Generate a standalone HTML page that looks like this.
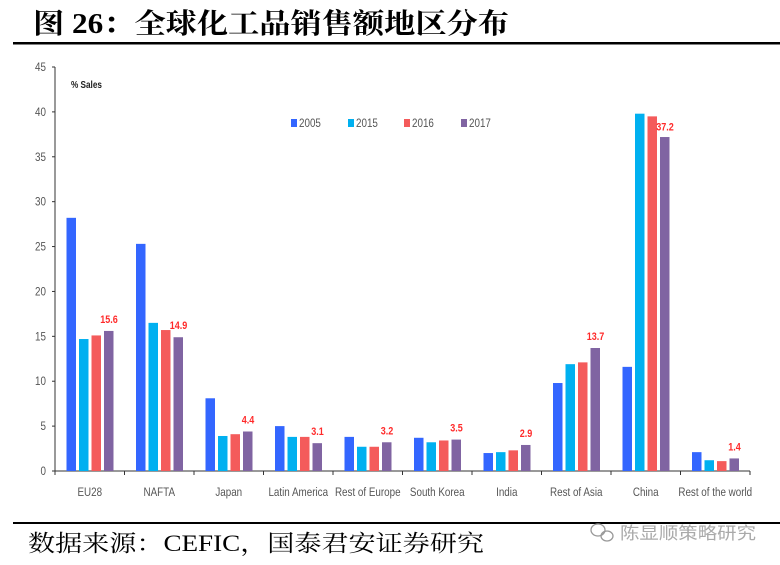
<!DOCTYPE html>
<html><head><meta charset="utf-8"><style>
body{margin:0;background:#fff;}
</style></head><body>
<svg width="780" height="560" xmlns="http://www.w3.org/2000/svg" font-family="'Liberation Sans',sans-serif">
<rect width="780" height="560" fill="#fff"/>
<text x="33" y="33" font-family="'Liberation Serif','Noto Serif CJK SC',serif" font-weight="bold" font-size="28" fill="#000" textLength="476" lengthAdjust="spacingAndGlyphs">图 26：全球化工品销售额地区分布</text>
<rect x="13" y="42" width="767" height="2.5" fill="#000"/>
<rect x="13" y="522" width="767" height="2" fill="#000"/>
<text x="28" y="551" font-family="'Liberation Serif','Noto Serif CJK SC',serif" font-size="23" fill="#000" textLength="456" lengthAdjust="spacingAndGlyphs">数据来源：CEFIC，国泰君安证券研究</text>
<g fill="none" stroke="#999" stroke-width="1.3"><ellipse cx="598" cy="530" rx="7" ry="6"/><ellipse cx="607" cy="536" rx="6" ry="5"/></g>
<text x="620" y="539" font-family="'Noto Sans CJK SC',sans-serif" font-size="17" fill="#aaa" textLength="136" lengthAdjust="spacingAndGlyphs">陈显顺策略研究</text>
<g id="chart"></g>
</svg>
<script>
const ns="http://www.w3.org/2000/svg",g=document.getElementById('chart');
function el(t,a,txt){const e=document.createElementNS(ns,t);for(const k in a)e.setAttribute(k,a[k]);if(txt!==undefined)e.textContent=txt;g.appendChild(e);return e;}
function ct(x,y,s,txt,extra){const e=el('text',Object.assign({x:0,y:0,'font-size':s,transform:`translate(${x},${y}) scale(0.82,1)`},extra||{}),txt);return e;}
const x0=55,y0=471,k=404/45,gw=69.5;
el('line',{x1:x0,y1:67,x2:x0,y2:y0,stroke:'#333','stroke-width':1});
el('line',{x1:x0,y1:y0,x2:750,y2:y0,stroke:'#333','stroke-width':1});
for(let v=0;v<=45;v+=5){const y=y0-v*k;el('line',{x1:x0-3,y1:y,x2:x0,y2:y,stroke:'#333'});ct(x0-9,y+4,12,v,{'text-anchor':'end',fill:'#555'});}
for(let i=0;i<=10;i++){const x=x0+i*gw;el('line',{x1:x,y1:y0,x2:x,y2:y0+4,stroke:'#333'});}
ct(71,88,10,'% Sales',{'font-weight':'bold',fill:'#222'});
const cols=['#3366ff','#00b0f0','#f45b5b','#8064a2'];
const names=['EU28','NAFTA','Japan','Latin America','Rest of Europe','South Korea','India','Rest of Asia','China','Rest of the world'];
const d=[[28.2,14.7,15.1,15.6],[25.3,16.5,15.7,14.9],[8.1,3.9,4.1,4.4],[5.0,3.8,3.8,3.1],[3.8,2.7,2.7,3.2],[3.7,3.2,3.4,3.5],[2.0,2.1,2.3,2.9],[9.8,11.9,12.1,13.7],[11.6,39.8,39.5,37.2],[2.1,1.2,1.1,1.4]];
d.forEach((r,i)=>{const gx=x0+i*gw;r.forEach((v,j)=>{const x=gx+11.5+j*12.5,h=v*k;el('rect',{x:x,y:y0-h,width:9.5,height:h,fill:cols[j]});});
 const lx=gx+11.5+3*12.5+5, ly=y0-r[3]*k-8; const isC=i==8;
 ct(lx,isC?y0-39.5*k+14:ly,11,r[3].toFixed(1),{'text-anchor':'middle','font-weight':'bold',fill:'#ff2a2a'});
 ct(gx+gw/2,y0+25,12,names[i],{'text-anchor':'middle',fill:'#555'});});
['2005','2015','2016','2017'].forEach((t,j)=>{const x=[291,348,404,461][j];el('rect',{x:x,y:119,width:6,height:8,fill:cols[j]});ct(x+8,127,12,t,{fill:'#555'});});
</script>
</body></html>
